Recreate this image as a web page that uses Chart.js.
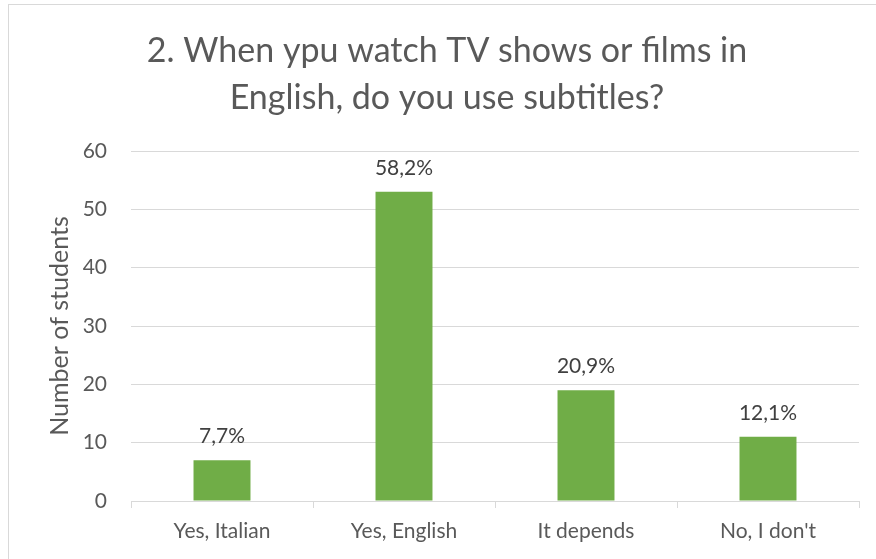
<!DOCTYPE html>
<html>
<head>
<meta charset="utf-8">
<script src="https://cdn.jsdelivr.net/npm/chart.js@4"></script>
<style>
  html, body { margin: 0; padding: 0; background: #fff; overflow: hidden; }
  body { width: 876px; height: 559px; position: relative; }
  #frame {
    position: absolute; left: 8px; top: 4px;
    border-left: 1px solid #d9d9d9; border-top: 1px solid #d9d9d9;
  }
  canvas { display: block; }
</style>
</head>
<body>
<div id="frame"><canvas id="subtitleChart" width="876" height="560"></canvas></div>
<script>
// Survey answers: how many students use subtitles, and the share of each answer
const answers = ["Yes, Italian", "Yes, English", "It depends", "No, I don't"];
const students = [7, 53, 19, 11];
const shares = ["7,7%", "58,2%", "20,9%", "12,1%"];
const yTicks = [0, 10, 20, 30, 40, 50, 60];

const FONT = "Lato, 'Open Sans', sans-serif";
const TEXT = "#595959";
const GRID = "#d9d9d9";

// Writes the percentage above each bar
const shareLabels = {
  id: "shareLabels",
  afterDatasetsDraw(chart) {
    const ctx = chart.ctx;
    const meta = chart.getDatasetMeta(0);
    ctx.save();
    ctx.font = "21px " + FONT;
    ctx.fillStyle = "#404040";
    ctx.textAlign = "center";
    ctx.textBaseline = "alphabetic";
    meta.data.forEach((bar, i) => {
      ctx.fillText(shares[i], bar.x, bar.y - 17);
    });
    ctx.restore();
  },
};

const ctx = document.getElementById("subtitleChart").getContext("2d");
new Chart(ctx, {
  type: "bar",
  data: {
    labels: answers,
    datasets: [
      {
        label: "Number of students",
        data: students,
        backgroundColor: "#70ad47",
        borderWidth: 0,
        barPercentage: 0.313,
        categoryPercentage: 1,
      },
    ],
  },
  options: {
    responsive: false,
    animation: false,
    // equal side padding keeps the title centred on the frame
    layout: { padding: { left: 26, right: 26, top: 0, bottom: 0 } },
    plugins: {
      legend: { display: false },
      tooltip: { enabled: false },
      title: {
        display: true,
        text: ["2. When ypu watch TV shows or films in", "English, do you use subtitles?"],
        color: TEXT,
        font: { family: FONT, size: 34, weight: "normal", lineHeight: 1.38 },
        padding: { top: 22.5, bottom: 29.7 },
      },
    },
    scales: {
      x: {
        grid: {
          display: true,
          drawOnChartArea: false,
          drawTicks: true,
          tickLength: 7,
          color: GRID,
        },
        border: { display: true, color: GRID, width: 1 },
        ticks: { color: TEXT, font: { family: FONT, size: 21 }, padding: 11 },
        afterFit(scale) {
          scale.height = 64;
        },
      },
      y: {
        min: 0,
        max: 60,
        afterBuildTicks(scale) {
          scale.ticks = yTicks.map((v) => ({ value: v }));
        },
        grid: { color: GRID, drawTicks: false },
        border: { display: false },
        ticks: { color: TEXT, font: { family: FONT, size: 21 }, padding: 24 },
        title: {
          display: true,
          text: "Number of students",
          color: TEXT,
          font: { family: FONT, size: 25 },
          padding: { top: 10, bottom: 0 },
        },
        afterFit(scale) {
          scale.width = 96;
        },
      },
    },
  },
  plugins: [shareLabels],
});
</script>
</body>
</html>
